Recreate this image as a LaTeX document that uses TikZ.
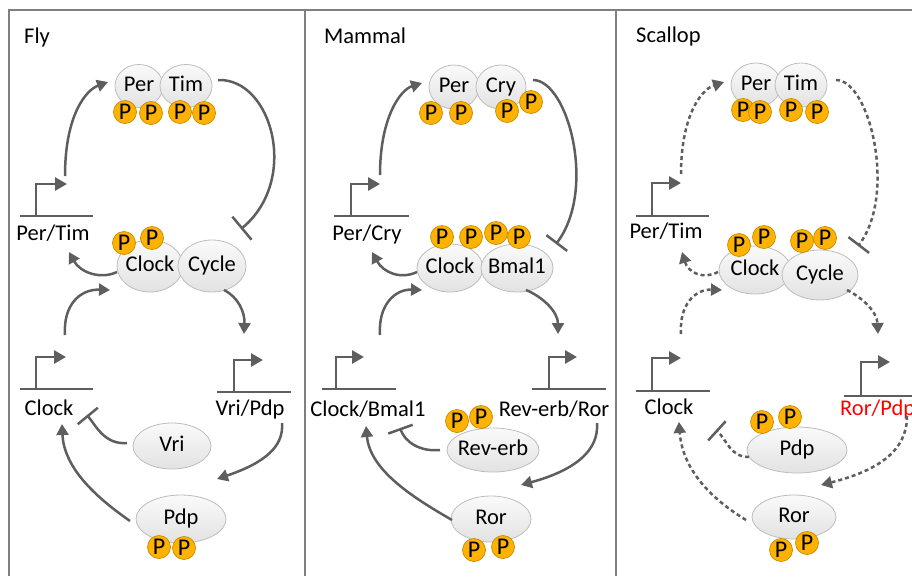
\documentclass[tikz,border=0pt]{standalone}
\usepackage{fontspec}
\setmainfont{Carlito}
\usetikzlibrary{shapes.geometric,arrows.meta}
\definecolor{linegray}{HTML}{5E5E5E}
\definecolor{framegray}{HTML}{7F7F7F}
\definecolor{protedge}{HTML}{BDBDBD}
\definecolor{prottop}{HTML}{FAFAFA}
\definecolor{protbot}{HTML}{E2E2E2}
\definecolor{phosfill}{HTML}{FFB200}
\definecolor{phosedge}{HTML}{C98A00}
\definecolor{genered}{HTML}{FF0000}

% promoter symbol: name, left x, right x, stem x, base y, top y, tip x
\newcommand\promoter[7]{%
  \draw[gene] (#2,#5) -- (#3,#5);
  \draw[gene,-{Triangle[length=12pt,width=13pt]}] (#4,#5) -- (#4,#6) -- (#7,#6);
  \coordinate (#1) at (#4,#5);}

\begin{document}
\begin{tikzpicture}[x=1pt,y=-1pt,
  txt/.style={font=\fontsize{22.5}{27}\selectfont, inner sep=0pt},
  prot/.style={ellipse, draw=protedge, line width=0.8pt, top color=prottop,
    bottom color=protbot, inner sep=0pt, text height=15pt, text depth=5pt,
    font=\fontsize{22.5}{27}\selectfont},
  phos/.style={circle, draw=phosedge, fill=phosfill, line width=0.7pt,
    minimum size=23pt, inner sep=0pt, font=\fontsize{24}{26}\selectfont},
  act/.style={draw=linegray, line width=2.5pt, -{Triangle[length=11pt,width=12pt]}},
  inh/.style={draw=linegray, line width=2.5pt, -{Bar[width=26pt]}},
  maybe/.style={dash pattern=on 4pt off 3pt},
  gene/.style={draw=linegray, line width=2.8pt},
  frame/.style={draw=framegray, line width=2pt}]
\useasboundingbox (0,0) rectangle (912,576);

% panel frame
\draw[frame] (9,576) -- (9,10) -- (912,10);
\draw[frame] (305,10) -- (305,576);
\draw[frame] (616,10) -- (616,576);

\node[txt, anchor=base west] (tfly) at (24,43) {Fly};
\node[txt, anchor=base west] (tmam) at (324,43) {Mammal};
\node[txt, anchor=base west] (tsca) at (636,42) {Scallop};

%% ---------------- Fly ----------------
\node[prot, minimum width=48pt, minimum height=43pt] (fper) at (139,86) {\makebox[0pt]{Per}};
\node[prot, minimum width=52pt, minimum height=43pt] (ftim) at (186,86) {\makebox[0pt]{Tim}};
\foreach \n/\p in {fp1/{125,112}, fp2/{151,113}, fp3/{180,112}, fp4/{204,113}}
  \node[phos] (\n) at (\p) {P};
\node[prot, minimum width=66pt, minimum height=52pt] (fclk) at (150,266) {\makebox[0pt]{Clock}};
\node[prot, minimum width=68pt, minimum height=52pt] (fcyc) at (212,266) {\makebox[0pt]{Cycle}};
\foreach \n/\p in {fp5/{124,243}, fp6/{152,238}}
  \node[phos] (\n) at (\p) {P};
\node[prot, minimum width=78pt, minimum height=46pt] (fvri) at (172,446) {\makebox[0pt]{Vri}};
\node[prot, minimum width=90pt, minimum height=48pt] (fpdp) at (181,519) {\makebox[0pt]{Pdp}};
\foreach \n/\p in {fp7/{159,547}, fp8/{184,548}}
  \node[phos] (\n) at (\p) {P};

\promoter{fgpt}{20}{93}{36}{216}{184}{67}
\promoter{fgck}{20}{93}{36}{389}{357}{66}
\promoter{fgvp}{217}{291}{234}{392}{360}{263}
\node[txt, anchor=base] (lfpt) at (53,240) {Per/Tim};
\node[txt, anchor=base] (lfck) at (49,415) {Clock};
\node[txt, anchor=base] (lfvp) at (250,415) {Vri/Pdp};

\coordinate (fa1) at (65,176);  \coordinate (fb1) at (108,82);
\coordinate (fa2) at (218,80);  \coordinate (fb2) at (241,229);
\coordinate (fa3) at (117,272); \coordinate (fb3) at (69,252);
\coordinate (fa4) at (65,335);  \coordinate (fb4) at (110,290);
\coordinate (fa5) at (224,290); \coordinate (fb5) at (244,334);
\coordinate (fa6) at (127,443); \coordinate (fb6) at (87,415);
\coordinate (fa7) at (282,423); \coordinate (fb7) at (217,479);
\coordinate (fa8) at (130,521); \coordinate (fb8) at (62,424);
\draw[act] (fa1) .. controls (65,115) and (86,90) .. (fb1);
\draw[inh, -{Bar[width=30pt]}] (fa2) .. controls (272,78) and (300,180) .. (fb2);
\draw[act] (fa3) .. controls (100,280) and (80,272) .. (fb3);
\draw[act] (fa4) .. controls (63,305) and (80,289) .. (fb4);
\draw[act] (fa5) .. controls (238,297) and (245,312) .. (fb5);
\draw[inh] (fa6) .. controls (105,445) and (96,426) .. (fb6);
\draw[act] (fa7) .. controls (284,447) and (264,463) .. (fb7);
\draw[act] (fa8) .. controls (100,500) and (64,470) .. (fb8);

%% ---------------- Mammal ----------------
\node[prot, minimum width=50pt, minimum height=44pt] (mper) at (454,87) {\makebox[0pt]{Per}};
\node[prot, minimum width=50pt, minimum height=44pt] (mcry) at (501,87) {\makebox[0pt]{Cry}};
\foreach \n/\p in {mp1/{431,113}, mp2/{461,113}, mp3/{507,111}, mp4/{531,102}}
  \node[phos] (\n) at (\p) {P};
\node[prot, minimum width=66pt, minimum height=48pt] (mclk) at (450,268) {\makebox[0pt]{Clock}};
\node[prot, minimum width=72pt, minimum height=48pt] (mbml) at (517,268) {\makebox[0pt]{Bmal1}};
\foreach \n/\p in {mp5/{442,237}, mp6/{471,237}, mp7/{496,233}, mp8/{519,237}}
  \node[phos] (\n) at (\p) {P};
\node[prot, minimum width=92pt, minimum height=44pt] (mrev) at (493,450) {\makebox[0pt]{Rev-erb}};
\foreach \n/\p in {mp9/{457,421}, mp10/{481,417}}
  \node[phos] (\n) at (\p) {P};
\node[prot, minimum width=80pt, minimum height=46pt] (mror) at (491,519) {\makebox[0pt]{Ror}};
\foreach \n/\p in {mp11/{474,550}, mp12/{503,547}}
  \node[phos] (\n) at (\p) {P};

\promoter{mgpc}{334}{409}{351}{216}{184}{380}
\promoter{mgcb}{322}{396}{336}{389}{357}{364}
\promoter{mgrr}{532}{606}{549}{389}{357}{577}
\node[txt, anchor=base] (lmpc) at (367,240) {Per/Cry};
\node[txt, anchor=base] (lmcb) at (368,416) {Clock/Bmal1};
\node[txt, anchor=base] (lmrr) at (554,416) {Rev-erb/Ror};

\coordinate (ma1) at (380,175); \coordinate (mb1) at (422,83);
\coordinate (ma2) at (533,80);  \coordinate (mb2) at (556,244);
\coordinate (ma3) at (417,272); \coordinate (mb3) at (372,252);
\coordinate (ma4) at (380,335); \coordinate (mb4) at (422,290);
\coordinate (ma5) at (526,290); \coordinate (mb5) at (558,334);
\coordinate (ma6) at (440,450); \coordinate (mb6) at (400,428);
\coordinate (ma7) at (597,423); \coordinate (mb7) at (521,485);
\coordinate (ma8) at (452,520); \coordinate (mb8) at (366,426);
\draw[act] (ma1) .. controls (380,118) and (400,90) .. (mb1);
\draw[inh] (ma2) .. controls (568,80) and (597,190) .. (mb2);
\draw[act] (ma3) .. controls (400,280) and (383,272) .. (mb3);
\draw[act] (ma4) .. controls (378,305) and (395,289) .. (mb4);
\draw[act] (ma5) .. controls (543,297) and (558,312) .. (mb5);
\draw[inh] (ma6) .. controls (420,452) and (405,442) .. (mb6);
\draw[act] (ma7) .. controls (599,450) and (576,470) .. (mb7);
\draw[act] (ma8) .. controls (412,497) and (370,470) .. (mb8);

%% ---------------- Scallop ----------------
\node[prot, minimum width=50pt, minimum height=44pt] (sper) at (756,85) {\makebox[0pt]{Per}};
\node[prot, minimum width=52pt, minimum height=44pt] (stim) at (801,85) {\makebox[0pt]{Tim}};
\foreach \n/\p in {sp1/{743,110}, sp2/{760,112}, sp3/{791,110}, sp4/{817,112}}
  \node[phos] (\n) at (\p) {P};
\node[prot, minimum width=72pt, minimum height=48pt] (sclk) at (755,270) {\makebox[0pt]{Clock}};
\node[prot, minimum width=76pt, minimum height=50pt] (scyc) at (820,275) {\makebox[0pt]{Cycle}};
\foreach \n/\p in {sp5/{739,245}, sp6/{764,237}, sp7/{802,241}, sp8/{825,238}}
  \node[phos] (\n) at (\p) {P};
\node[prot, minimum width=100pt, minimum height=46pt] (spdp) at (797,450) {\makebox[0pt]{Pdp}};
\foreach \n/\p in {sp9/{762,422}, sp10/{790,417}}
  \node[phos] (\n) at (\p) {P};
\node[prot, minimum width=84pt, minimum height=44pt] (sror) at (794,517) {\makebox[0pt]{Ror}};
\foreach \n/\p in {sp11/{781,550}, sp12/{807,543}}
  \node[phos] (\n) at (\p) {P};

\promoter{sgpt}{636}{709}{652}{216}{183}{681}
\promoter{sgck}{636}{710}{652}{391}{358}{681}
\promoter{sgrp}{844}{930}{861}{396}{362}{890}
\node[txt, anchor=base] (lspt) at (666,238) {Per/Tim};
\node[txt, anchor=base] (lsck) at (669,414) {Clock};
\node[txt, anchor=base west, text=genered] (lsrp) at (840,415) {Ror/Pdp};

\coordinate (sa1) at (681,174); \coordinate (sb1) at (724,82);
\coordinate (sa2) at (836,80);  \coordinate (sb2) at (858,246);
\coordinate (sa3) at (718,272); \coordinate (sb3) at (682,252);
\coordinate (sa4) at (681,334); \coordinate (sb4) at (722,290);
\coordinate (sa5) at (847,290); \coordinate (sb5) at (878,334);
\coordinate (sa6) at (749,457); \coordinate (sb6) at (716,430);
\coordinate (sa7) at (907,416); \coordinate (sb7) at (821,485);
\coordinate (sa8) at (746,520); \coordinate (sb8) at (679,422);
\draw[act, maybe] (sa1) .. controls (681,118) and (700,90) .. (sb1);
\draw[inh, maybe] (sa2) .. controls (870,80) and (897,195) .. (sb2);
\draw[act, maybe] (sa3) .. controls (702,280) and (688,272) .. (sb3);
\draw[act, maybe] (sa4) .. controls (679,305) and (695,289) .. (sb4);
\draw[act, maybe] (sa5) .. controls (863,298) and (877,312) .. (sb5);
\draw[inh, maybe] (sa6) .. controls (730,457) and (727,440) .. (sb6);
\draw[act, maybe] (sa7) .. controls (907,450) and (880,470) .. (sb7);
\draw[act, maybe] (sa8) .. controls (705,495) and (682,465) .. (sb8);
\end{tikzpicture}
\end{document}
